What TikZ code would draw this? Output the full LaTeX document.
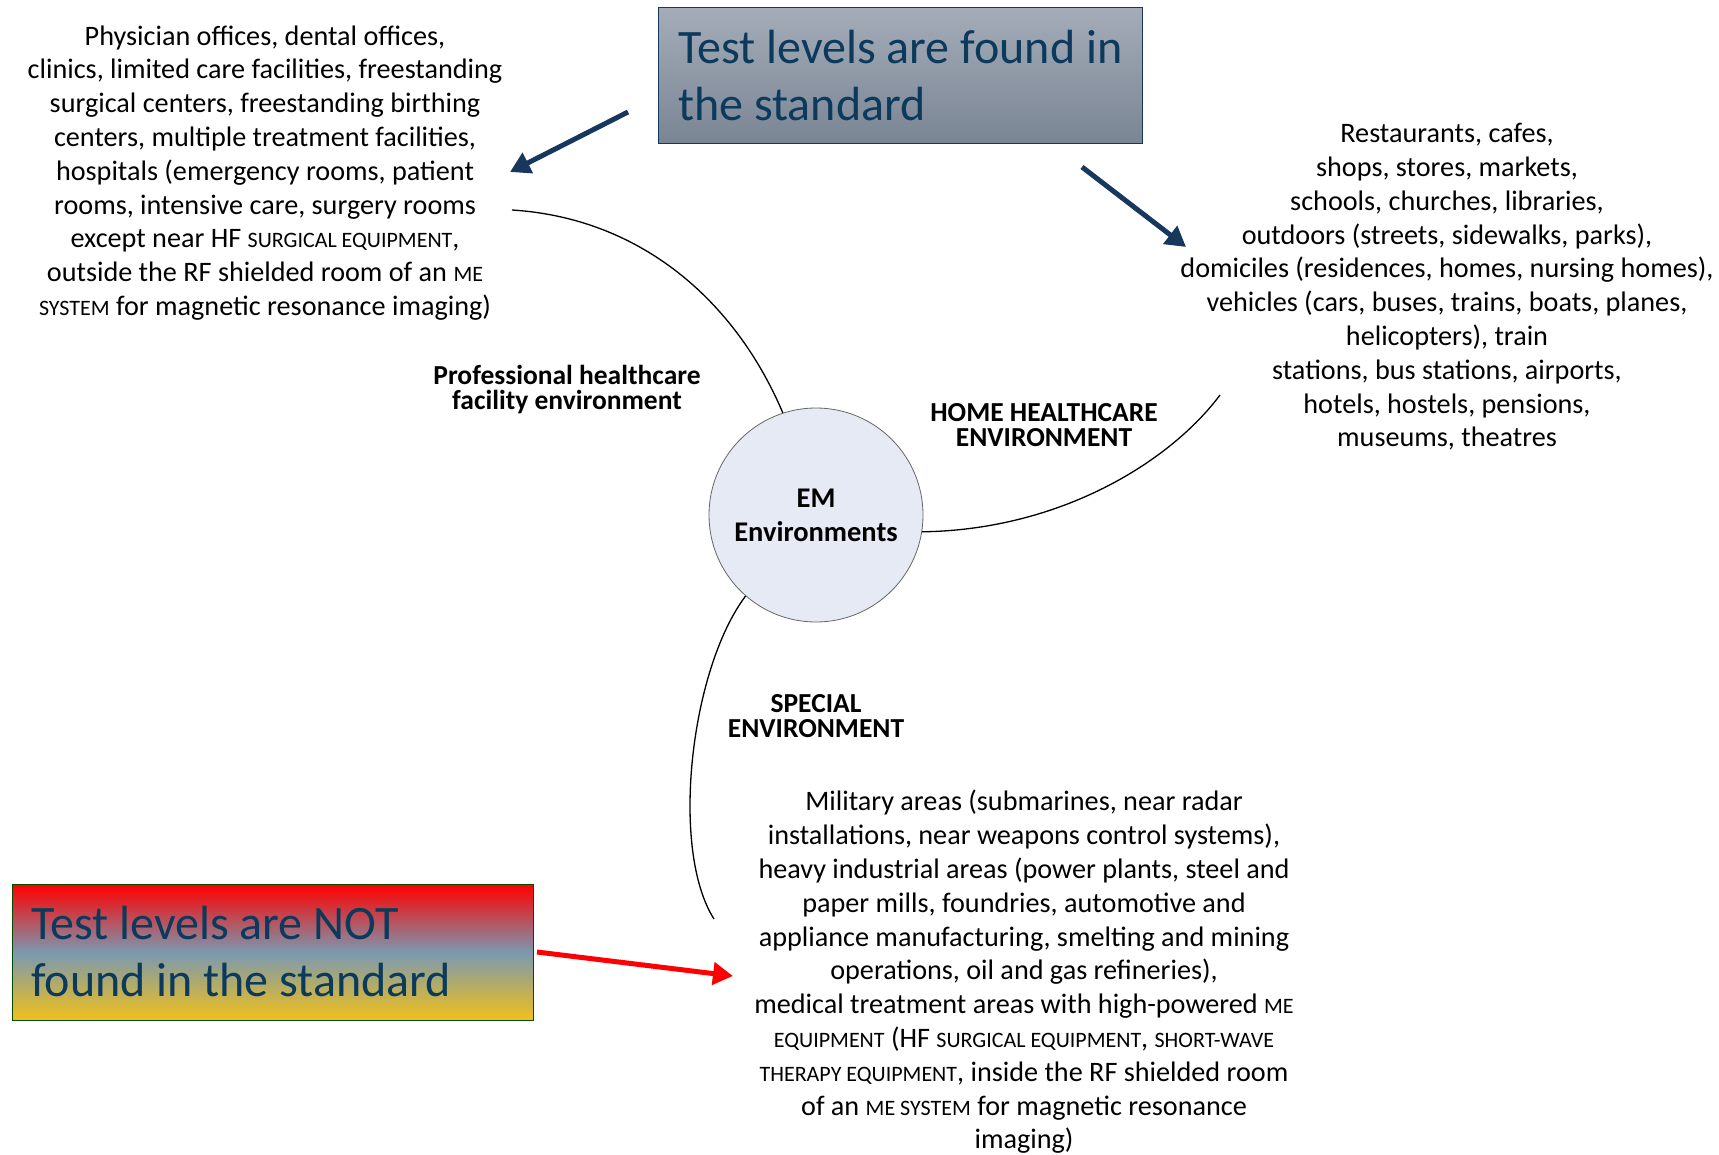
\documentclass[tikz,border=0pt]{standalone}
\usepackage{fontspec}
\setmainfont{Carlito}
\usetikzlibrary{arrows.meta,shapes.geometric}
\definecolor{navy}{HTML}{17375E}
\definecolor{titletxt}{HTML}{0B3A5C}
\definecolor{boxtop}{HTML}{A4ACB8}
\definecolor{boxbot}{HTML}{7A8594}
\definecolor{circfill}{HTML}{E6EAF4}
\newcommand\fsc[1]{{\fontsize{22}{22}\selectfont #1}}
\tikzset{
  body/.style={align=center, font=\fontsize{28.2}{33.8}\selectfont, inner sep=0pt},
  envlabel/.style={align=center, font=\fontsize{27.5}{25}\selectfont\bfseries, inner sep=0pt},
  titlebox/.style={draw=navy, line width=1.2pt, minimum width=484pt, minimum height=136pt, inner sep=0pt},
  conn/.style={line width=1.3pt, black},
  bluearrow/.style={navy, line width=5pt, -{Triangle[length=20pt,width=22pt]}},
  redarrow/.style={red, line width=5pt, -{Triangle[length=20pt,width=22pt]}},
  bigtxt/.style={font=\fontsize{48}{57}\selectfont, text=titletxt, align=left, inner sep=0pt, anchor=west}
}
\begin{document}
\begin{tikzpicture}[x=1pt,y=-1pt]
\useasboundingbox (0,0) rectangle (1719,1155);
% title boxes
\node[titlebox, top color=boxtop, bottom color=boxbot, anchor=north west] (tb) at (658,7) {};
\node[bigtxt] (tbt) at (678,76) {Test levels are found in\\the standard};
\node[titlebox, draw=black!70!green, minimum width=521pt, top color=red, bottom color={rgb,255:red,242;green,192;blue,24}, middle color={rgb,255:red,122;green,153;blue,176}, anchor=north west] (rb) at (12,884) {};
\node[bigtxt] (rbt) at (31,952) {Test levels are NOT\\found in the standard};
% center circle
\node[circle, draw=black!60, line width=0.8pt, fill=circfill, minimum size=214pt, inner sep=0pt,
      font=\fontsize{28.5}{34}\selectfont\bfseries, align=center] (em) at (816,515) {EM\\Environments};
% connectors
\coordinate (c1) at (512,210);
\coordinate (c2) at (1220,395);
\coordinate (c3) at (714,919);
\draw[conn] (em.108) .. controls (735,300) and (640,218) .. (c1);
\draw[conn] (em.351) .. controls (1060,530) and (1170,462) .. (c2);
\draw[conn] (em.229) .. controls (690,670) and (670,850) .. (c3);
% labels
\node[envlabel] (l1) at (567,390) {Professional healthcare\\facility environment};
\node[envlabel] (l2) at (1044,425) {HOME HEALTHCARE\\ENVIRONMENT};
\node[envlabel] (l3) at (816,716) {SPECIAL\\ENVIRONMENT};
% text blocks
\node[body] (tl) at (265,173) {Physician offices, dental offices,\\clinics, limited care facilities, freestanding\\surgical centers, freestanding birthing\\centers, multiple treatment facilities,\\hospitals (emergency rooms, patient\\rooms, intensive care, surgery rooms\\except near HF \fsc{SURGICAL EQUIPMENT},\\outside the RF shielded room of an \fsc{ME}\\\fsc{SYSTEM} for magnetic resonance imaging)};
\node[body] (tr) at (1447,287) {Restaurants, cafes,\\shops, stores, markets,\\schools, churches, libraries,\\outdoors (streets, sidewalks, parks),\\domiciles (residences, homes, nursing homes),\\vehicles (cars, buses, trains, boats, planes,\\helicopters), train\\stations, bus stations, airports,\\hotels, hostels, pensions,\\museums, theatres};
\node[body] (bt) at (1024,972) {Military areas (submarines, near radar\\installations, near weapons control systems),\\heavy industrial areas (power plants, steel and\\paper mills, foundries, automotive and\\appliance manufacturing, smelting and mining\\operations, oil and gas refineries),\\medical treatment areas with high-powered \fsc{ME}\\\fsc{EQUIPMENT} (HF \fsc{SURGICAL EQUIPMENT}, \fsc{SHORT-WAVE}\\\fsc{THERAPY EQUIPMENT}, inside the RF shielded room\\of an \fsc{ME SYSTEM} for magnetic resonance\\imaging)};
% arrows
\coordinate (a1s) at (628,112);
\coordinate (a1e) at (510,172);
\coordinate (a2s) at (1082,167);
\coordinate (a2e) at (1186,247);
\coordinate (a3s) at (537,952);
\coordinate (a3e) at (733,976);
\draw[bluearrow] (a1s) -- (a1e);
\draw[bluearrow] (a2s) -- (a2e);
\draw[redarrow] (a3s) -- (a3e);
\end{tikzpicture}
\end{document}
